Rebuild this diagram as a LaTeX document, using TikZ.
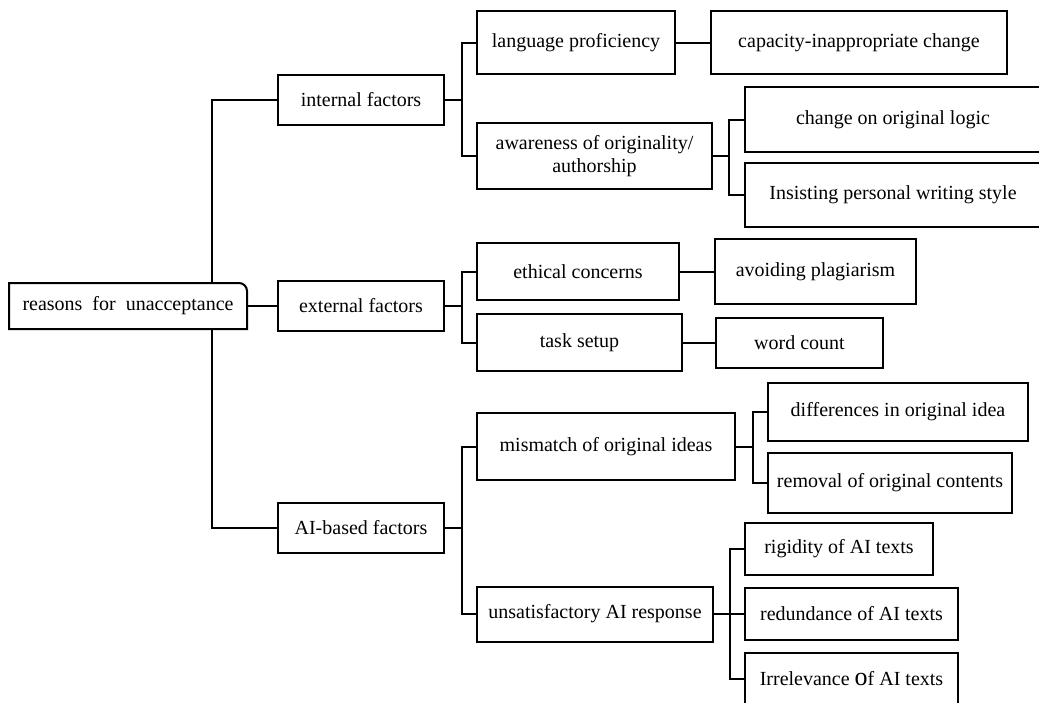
\documentclass[tikz,border=0pt]{standalone}
\usepackage{fontspec}
\setmainfont{Liberation Serif}
\usetikzlibrary{positioning, backgrounds}

\begin{document}
\begin{tikzpicture}[
         x=1pt, y=-1pt,
         line width=2pt,
         cell/.style={draw, fill=white, align=center, inner sep=2pt,
                      font=\fontsize{20}{23}\selectfont},
         boxsize/.style 2 args={minimum width=#1, minimum height=#2},
         link/.style={line width=2pt}
      ]
         % Page frame
         \useasboundingbox (0,0) rectangle (1039,702);
         \clip (0,0) rectangle (1039,702);

         % Root with one rounded corner
         \node[cell, draw=none, boxsize={236pt}{44pt}] (root) at (128,306) {reasons\ \ for\ \ unacceptance};
         \draw (root.south west) |- ([xshift=-8pt]root.north east) to[out=0, in=90] ([yshift=-8pt]root.north east) -- (root.south east) -- cycle;

         % Main factors
         \node[cell, boxsize={166pt}{50pt}] (internal) at (361,100) {internal factors};
         \node[cell, boxsize={166pt}{50pt}] (external) at (361,306) {external factors};
         \node[cell, boxsize={166pt}{50pt}] (aibased) at (361,528) {AI-based factors};

         % Internal branch
         \node[cell, boxsize={198pt}{63pt}] (lang) at (576,42.5) {language proficiency};
         \node[cell, boxsize={296pt}{63pt}] (capacity) [right=34pt of lang] {capacity-inappropriate change};
         \node[cell, boxsize={235pt}{66pt}] (aware) at (594.5,156) {awareness of originality/\\authorship};
         \node[cell, boxsize={296pt}{65pt}] (logic) at (893,119.5) {change on original logic};
         \node[cell, boxsize={296pt}{64pt}] (style) at (893,195) {Insisting personal writing style};

         % External branch
         \node[cell, boxsize={202pt}{57pt}] (ethical) at (578,271.5) {ethical concerns};
         \node[cell, boxsize={201pt}{65pt}] (plagiarism) [right=34pt of ethical] {avoiding plagiarism};
         \node[cell, boxsize={205pt}{57pt}] (task) at (579.5,342.5) {task setup};
         \node[cell, boxsize={167pt}{50pt}] (wordcount) [right=32pt of task] {word count};

         % AI-based branch
         \node[cell, boxsize={258pt}{67pt}] (mismatch) at (606,446.5) {mismatch of original ideas};
         \node[cell, boxsize={260pt}{58pt}] (difference) at (898,412) {differences in original idea};
         \node[cell, boxsize={244pt}{60pt}] (removal) at (890,483) {removal of original contents};
         \node[cell, boxsize={236pt}{55pt}] (response) at (595,614) {unsatisfactory AI response};
         \node[cell, boxsize={188pt}{52pt}] (rigidity) at (839,549) {rigidity of AI texts};
         \node[cell, boxsize={213pt}{52pt}] (redundance) at (851.5,614) {redundance of AI texts};
         \node[cell, boxsize={213pt}{52pt}] (irrelevance) at (851.5,679) {Irrelevance {\fontsize{26}{26}\selectfont o}f AI texts};

         % Connectors behind the boxes
         \begin{scope}[on background layer]
            \draw[link] (root.east) -- (external.west);
            \draw[link] (internal.west) -- ++(-65,0) |- (aibased.west);
            \draw[link] (internal.east) -- ++(17,0) |- (lang.west);
            \draw[link] (internal.east) -- ++(17,0) |- (aware.west);
            \draw[link] (lang.east) -- (capacity.west);
            \draw[link] (aware.east) -- ++(16,0) |- (logic.west);
            \draw[link] (aware.east) -- ++(16,0) |- (style.west);
            \draw[link] (external.east) -- ++(17,0) |- (ethical.west);
            \draw[link] (external.east) -- ++(17,0) |- (task.west);
            \draw[link] (ethical.east) -- (plagiarism.west);
            \draw[link] (task.east) -- (wordcount.west);
            \draw[link] (aibased.east) -- ++(17,0) |- (mismatch.west);
            \draw[link] (aibased.east) -- ++(17,0) |- (response.west);
            \draw[link] (mismatch.east) -- ++(17,0) |- (difference.west);
            \draw[link] (mismatch.east) -- ++(17,0) |- (removal.west);
            \draw[link] (response.east) -- ++(16,0) |- (rigidity.west);
            \draw[link] (response.east) -- ++(16,0) |- (redundance.west);
            \draw[link] (response.east) -- ++(16,0) |- (irrelevance.west);
         \end{scope}

      \end{tikzpicture}
\end{document}
